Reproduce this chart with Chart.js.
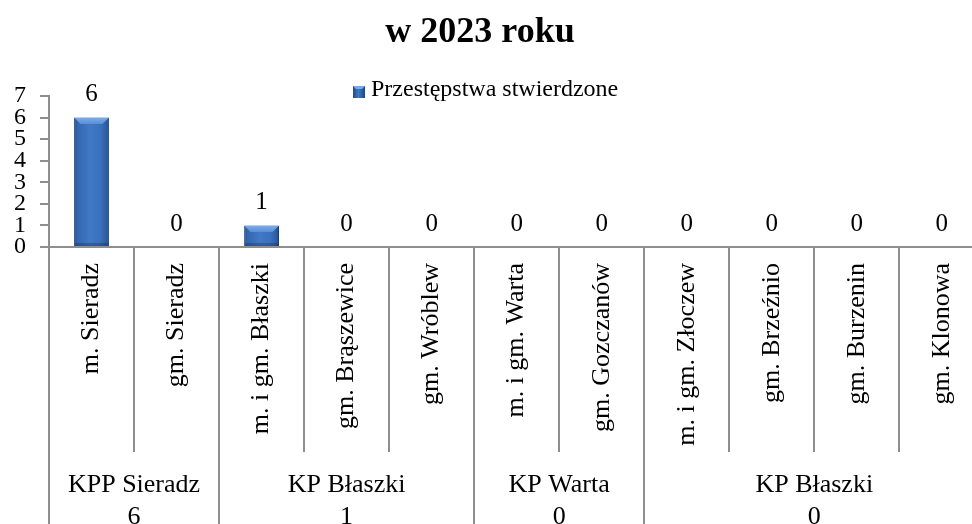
<!DOCTYPE html>
<html><head><meta charset="utf-8">
<script src="https://cdn.jsdelivr.net/npm/chart.js@4.4.0/dist/chart.umd.min.js"></script>
<style>
html,body{margin:0;padding:0;overflow:hidden;background:#fff;width:972px;height:524px}
#wrap{width:989px;height:524px}
canvas{display:block}
</style></head>
<body><div id="wrap"><canvas id="c" width="989" height="524"></canvas></div>
<script>
const titleText = 'w 2023 roku';
const seriesName = 'Przestępstwa stwierdzone';
const categories = ['m. Sieradz','gm. Sieradz','m. i gm. Błaszki','gm. Brąszewice','gm. Wróblew','m. i gm. Warta','gm. Gozczanów','m. i gm. Złoczew','gm. Brzeźnio','gm. Burzenin','gm. Klonowa'];
const values = [6,0,1,0,0,0,0,0,0,0,0];
const groupNames = ['KPP Sieradz','KP Błaszki','KP Warta','KP Błaszki'];
const groupTotals = [6,1,0,0];
const groupSizes = [2,3,2,4];
const yTicks = [0,1,2,3,4,5,6,7];

const SERIF = '"Liberation Serif", "Times New Roman", serif';
const AXIS = '#8e8e8e';
const BAR_FRAC = 0.41;

function barFill(ctx){
  const chart = ctx.chart;
  const xs = chart.scales && chart.scales.x;
  if (!xs || ctx.type !== 'data' || !(xs.right > xs.left)) return '#3a70bd';
  const x = xs.getPixelForValue(ctx.dataIndex);
  const half = (xs.right - xs.left) / categories.length * BAR_FRAC / 2;
  const g = chart.ctx.createLinearGradient(x - half, 0, x + half, 0);
  g.addColorStop(0, '#204b87');
  g.addColorStop(0.1, '#3366b0');
  g.addColorStop(0.45, '#4079c6');
  g.addColorStop(0.75, '#3a70bd');
  g.addColorStop(0.92, '#2e5ea5');
  g.addColorStop(1, '#1d4580');
  return g;
}

const decor = {
  id: 'decor',
  afterDatasetsDraw(chart){
    const ctx = chart.ctx;
    const meta = chart.getDatasetMeta(0);
    ctx.save();
    meta.data.forEach((el) => {
      const p = el.getProps(['x','y','base','width'], true);
      if (p.base - p.y < 2) return;
      const l = p.x - p.width/2 + 0.5, r = p.x + p.width/2 - 0.5, t = p.y + 0.5, b = 6;
      const g = ctx.createLinearGradient(0, t, 0, t + b);
      g.addColorStop(0, '#7aaae6');
      g.addColorStop(1, '#5a8fd6');
      ctx.fillStyle = g;
      ctx.beginPath();
      ctx.moveTo(l, t); ctx.lineTo(r, t); ctx.lineTo(r - b, t + b); ctx.lineTo(l + b, t + b);
      ctx.closePath(); ctx.fill();
      ctx.fillStyle = 'rgba(20,45,90,0.35)';
      ctx.fillRect(l, p.base - 3, r - l, 3);
    });
    ctx.restore();
  },
  afterDraw(chart){
    const ctx = chart.ctx;
    const xs = chart.scales.x;
    const n = categories.length;
    const w = (xs.right - xs.left) / n;
    ctx.save();
    const meta = chart.getDatasetMeta(0);
    ctx.fillStyle = '#000';
    ctx.font = '25px ' + SERIF;
    ctx.textAlign = 'center';
    ctx.textBaseline = 'alphabetic';
    meta.data.forEach((el, i) => {
      const p = el.getProps(['x','y'], true);
      ctx.fillText(String(values[i]), p.x, p.y - 16.5);
    });
    const starts = new Set();
    let acc = 0; starts.add(0);
    groupSizes.forEach(s => { acc += s; starts.add(acc); });
    ctx.strokeStyle = AXIS;
    ctx.lineWidth = 2;
    for (let i = 0; i <= n; i++) {
      const x = Math.round(xs.left + i * w);
      ctx.beginPath();
      ctx.moveTo(x, xs.top);
      ctx.lineTo(x, starts.has(i) ? 524 : 452);
      ctx.stroke();
    }
    ctx.font = '26px ' + SERIF;
    ctx.fillStyle = '#000';
    let s0 = 0;
    groupSizes.forEach((s, gi) => {
      const cx = xs.left + (s0 + s / 2) * w;
      ctx.fillText(groupNames[gi], cx, 491.5);
      ctx.fillText(String(groupTotals[gi]), cx, 523.5);
      s0 += s;
    });
    ctx.font = 'bold 36px ' + SERIF;
    ctx.fillText(titleText, 480, 41.5);
    const lx = 353, ly = 86, ls = 12;
    const lg = ctx.createLinearGradient(lx, 0, lx + ls, 0);
    lg.addColorStop(0, '#204b87'); lg.addColorStop(0.45, '#4079c6'); lg.addColorStop(1, '#1d4580');
    ctx.fillStyle = lg;
    ctx.fillRect(lx, ly, ls, ls);
    ctx.fillStyle = '#7aaae6';
    ctx.beginPath(); ctx.moveTo(lx, ly); ctx.lineTo(lx+ls, ly); ctx.lineTo(lx+ls-3, ly+3); ctx.lineTo(lx+3, ly+3); ctx.closePath(); ctx.fill();
    ctx.fillStyle = '#000';
    ctx.textAlign = 'left';
    ctx.font = '24px ' + SERIF;
    ctx.fillText(seriesName, 371, 96);
    ctx.restore();
  }
};

new Chart(document.getElementById('c'), {
  type: 'bar',
  data: {
    labels: categories,
    datasets: [{
      label: seriesName,
      data: values,
      backgroundColor: barFill,
      borderColor: '#1c3f72',
      borderWidth: 1,
      barPercentage: BAR_FRAC,
      categoryPercentage: 1
    }]
  },
  options: {
    responsive: false,
    animation: false,
    layout: { padding: { top: 96, left: 0, right: 0, bottom: 0 } },
    plugins: { legend: { display: false }, title: { display: false }, tooltip: { enabled: false } },
    scales: {
      x: {
        grid: { display: false, drawTicks: false },
        border: { display: true, color: AXIS, width: 2 },
        ticks: { autoSkip: false, maxRotation: 90, minRotation: 90, padding: 16, color: '#000', font: { family: SERIF, size: 26 } },
        afterFit(s) { s.height = 277; }
      },
      y: {
        min: yTicks[0], max: yTicks[yTicks.length - 1],
        grid: { drawOnChartArea: false, drawTicks: true, tickLength: 9, color: AXIS, lineWidth: 2 },
        border: { display: true, color: AXIS, width: 2 },
        ticks: { stepSize: 1, autoSkip: false, padding: 14, color: '#000', font: { family: SERIF, size: 24 } },
        afterFit(s) { s.width = 49; }
      }
    }
  },
  plugins: [decor]
});
</script>
</body></html>
